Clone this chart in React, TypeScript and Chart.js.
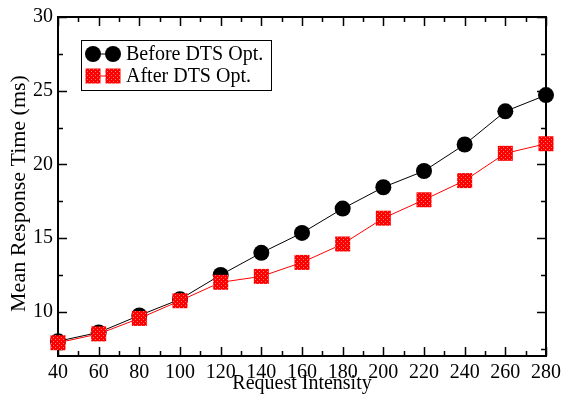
import React, { useEffect, useRef } from "react";
import { Chart, registerables } from "chart.js";

Chart.register(...registerables);

const intensities = [40, 60, 80, 100, 120, 140, 160, 180, 200, 220, 240, 260, 280];
const beforeOpt = [8.0, 8.6, 9.75, 10.85, 12.5, 14.0, 15.35, 17.0, 18.45, 19.55, 21.35, 23.6, 24.7];
const afterOpt = [7.9, 8.5, 9.55, 10.75, 12.0, 12.4, 13.35, 14.6, 16.35, 17.6, 18.9, 20.75, 21.4];
const xMajorTicks = [40, 60, 80, 100, 120, 140, 160, 180, 200, 220, 240, 260, 280];
const xMinorTicks = [50, 70, 90, 110, 130, 150, 170, 190, 210, 230, 250, 270];
const yMajorTicks = [10, 15, 20, 25, 30];
const yMinorTicks = [7.5, 12.5, 17.5, 22.5, 27.5];
const seriesNames = ["Before DTS Opt.", "After DTS Opt."];
const xTitle = "Request Intensity";
const yTitle = "Mean Response Time (ms)";

const FONT = "'Liberation Serif', 'Times New Roman', serif";

function makePattern(): CanvasPattern | string {
  const c = document.createElement("canvas");
  c.width = 4;
  c.height = 4;
  const g = c.getContext("2d");
  if (!g) return "#ff0000";
  g.fillStyle = "#ff0000";
  g.fillRect(0, 0, 4, 4);
  g.fillStyle = "#ff7a7a";
  g.fillRect(1, 1, 1, 1);
  g.fillRect(3, 3, 1, 1);
  const p = g.createPattern(c, "repeat");
  return p || "#ff0000";
}

export default function App() {
  const ref = useRef<HTMLCanvasElement | null>(null);

  useEffect(() => {
    document.body.style.margin = "0";
    const canvas = ref.current;
    if (!canvas) return;
    const pattern = makePattern();

    const frameTicks = {
      id: "frameTicks",
      beforeDatasetsDraw(chart: any) {
        const { ctx, chartArea } = chart;
        const xs = chart.scales.x;
        const ys = chart.scales.y;
        const { left, right, top, bottom } = chartArea;
        ctx.save();
        ctx.strokeStyle = "#000";
        ctx.lineWidth = 1.5;
        const tick = (len: number, vals: number[], axis: "x" | "y") => {
          vals.forEach((v) => {
            if (axis === "x") {
              const px = Math.round(xs.getPixelForValue(v)) + 0.5;
              ctx.beginPath();
              ctx.moveTo(px, bottom);
              ctx.lineTo(px, bottom - len);
              ctx.moveTo(px, top);
              ctx.lineTo(px, top + len);
              ctx.stroke();
            } else {
              const py = Math.round(ys.getPixelForValue(v)) + 0.5;
              ctx.beginPath();
              ctx.moveTo(left, py);
              ctx.lineTo(left + len, py);
              ctx.moveTo(right, py);
              ctx.lineTo(right - len, py);
              ctx.stroke();
            }
          });
        };
        tick(9, xMajorTicks, "x");
        tick(5, xMinorTicks, "x");
        tick(9, yMajorTicks, "y");
        tick(5, yMinorTicks, "y");
        ctx.lineWidth = 2;
        ctx.strokeRect(left, top, right - left, bottom - top);

        // y axis title
        ctx.fillStyle = "#000";
        ctx.font = `22px ${FONT}`;
        ctx.textAlign = "center";
        ctx.textBaseline = "alphabetic";
        ctx.translate(25, (top + bottom) / 2 + 7);
        ctx.rotate(-Math.PI / 2);
        ctx.fillText(yTitle, 0, 0);
        ctx.restore();
      },
      afterDraw(chart: any) {
        const { ctx, chartArea } = chart;
        const bx = chartArea.left + 23;
        const by = chartArea.top + 23;
        const bw = 190;
        const bh = 50;
        ctx.save();
        ctx.fillStyle = "#fff";
        ctx.fillRect(bx, by, bw, bh);
        ctx.strokeStyle = "#000";
        ctx.lineWidth = 1;
        ctx.strokeRect(bx + 0.5, by + 0.5, bw, bh);
        const rows = [by + 14, by + 36];
        const m1 = bx + 12;
        const m2 = bx + 32;
        ctx.strokeStyle = "#000";
        ctx.beginPath();
        ctx.moveTo(m1, rows[0]);
        ctx.lineTo(m2, rows[0]);
        ctx.stroke();
        ctx.fillStyle = "#000";
        [m1, m2].forEach((mx) => {
          ctx.beginPath();
          ctx.arc(mx, rows[0], 8, 0, Math.PI * 2);
          ctx.fill();
        });
        ctx.strokeStyle = "#ff0000";
        ctx.beginPath();
        ctx.moveTo(m1, rows[1]);
        ctx.lineTo(m2, rows[1]);
        ctx.stroke();
        ctx.fillStyle = pattern as any;
        [m1, m2].forEach((mx) => {
          ctx.fillRect(mx - 7.5, rows[1] - 7.5, 15, 15);
        });
        ctx.fillStyle = "#000";
        ctx.font = `20px ${FONT}`;
        ctx.textBaseline = "middle";
        ctx.textAlign = "left";
        ctx.fillText(seriesNames[0], bx + 45, rows[0] + 1);
        ctx.fillText(seriesNames[1], bx + 45, rows[1] + 1);
        ctx.restore();
      },
    };

    const chart = new Chart(canvas, {
      type: "line",
      data: {
        labels: intensities,
        datasets: [
          {
            label: seriesNames[0],
            data: intensities.map((x, i) => ({ x, y: beforeOpt[i] })),
            borderColor: "#000",
            backgroundColor: "#000",
            borderWidth: 1,
            pointStyle: "circle",
            pointRadius: 8,
            pointBorderWidth: 0,
            pointBackgroundColor: "#000",
            clip: false,
            order: 1,
          },
          {
            label: seriesNames[1],
            data: intensities.map((x, i) => ({ x, y: afterOpt[i] })),
            borderColor: "#ff0000",
            backgroundColor: pattern as any,
            borderWidth: 1,
            pointStyle: "rect",
            pointRadius: 10.6,
            pointBorderWidth: 0,
            pointBackgroundColor: pattern as any,
            clip: false,
            order: 0,
          },
        ],
      },
      options: {
        animation: false,
        responsive: true,
        maintainAspectRatio: false,
        layout: { padding: { top: 14, right: 17, left: 0, bottom: 0 } },
        plugins: { legend: { display: false }, tooltip: { enabled: false } },
        scales: {
          x: {
            type: "linear",
            min: 40,
            max: 280,
            afterBuildTicks: (s: any) => {
              s.ticks = xMajorTicks.map((v) => ({ value: v }));
            },
            afterFit: (s: any) => {
              s.height = 41;
            },
            grid: { display: false, drawTicks: false },
            border: { display: false },
            ticks: {
              padding: 5,
              color: "#000",
              font: { family: FONT, size: 20 },
              maxRotation: 0,
              autoSkip: false,
            },
            title: {
              display: true,
              text: xTitle,
              color: "#000",
              font: { family: FONT, size: 20 },
              padding: { top: 0, bottom: 1 },
            },
          },
          y: {
            type: "linear",
            min: 7,
            max: 30,
            afterBuildTicks: (s: any) => {
              s.ticks = yMajorTicks.map((v) => ({ value: v }));
            },
            afterFit: (s: any) => {
              s.width = 58;
            },
            grid: { display: false, drawTicks: false },
            border: { display: false },
            ticks: {
              padding: 5,
              color: "#000",
              font: { family: FONT, size: 20 },
            },
            title: { display: false },
          },
        },
      },
      plugins: [frameTicks],
    });
    return () => chart.destroy();
  }, []);

  return (
    <div style={{ width: 566, height: 397, position: "relative" }}>
      <canvas ref={ref} />
    </div>
  );
}
